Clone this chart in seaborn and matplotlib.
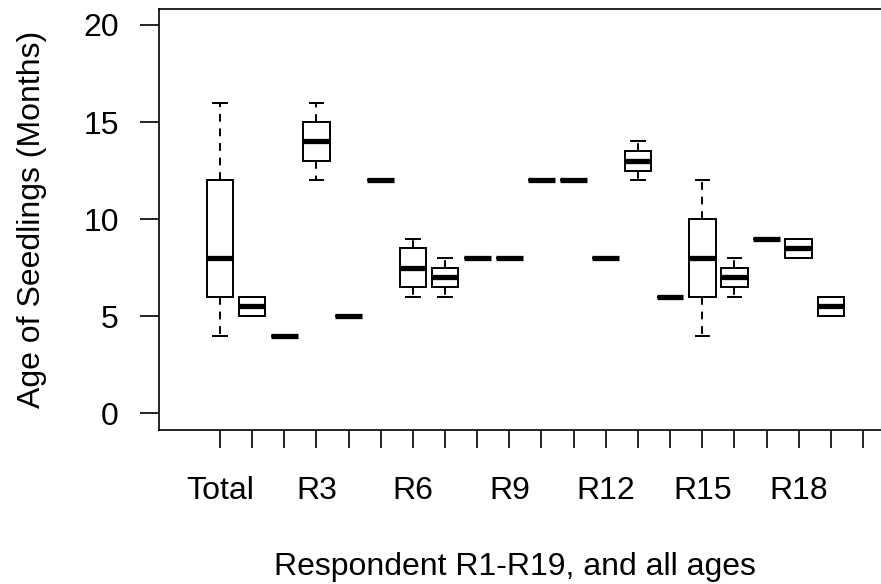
import matplotlib
matplotlib.use("Agg")
import matplotlib.pyplot as plt
import seaborn as sns
import pandas as pd

# Five-number summaries (min, Q1, median, Q3, max)
groups = ["Total"] + [f"R{i}" for i in range(1, 20)]
lows    = [4, 5,   4, 12, 5, 12, 6,   6,   8, 8, 12, 12, 8, 12,   6, 4, 6,   9, 8,   5]
q1s     = [6, 5,   4, 13, 5, 12, 6.5, 6.5, 8, 8, 12, 12, 8, 12.5, 6, 6, 6.5, 9, 8,   5]
medians = [8, 5.5, 4, 14, 5, 12, 7.5, 7,   8, 8, 12, 12, 8, 13,   6, 8, 7,   9, 8.5, 5.5]
q3s     = [12, 6,  4, 15, 5, 12, 8.5, 7.5, 8, 8, 12, 12, 8, 13.5, 6, 10, 7.5, 9, 9,  6]
highs   = [16, 6,  4, 16, 5, 12, 9,   8,   8, 8, 12, 12, 8, 14,   6, 12, 8,  9, 9,   6]

tick_labels = ["Total", "", "", "R3", "", "", "R6", "", "", "R9", "", "",
               "R12", "", "", "R15", "", "", "R18", "", ""]

rows = []
for g, a, b, c, d, e in zip(groups, lows, q1s, medians, q3s, highs):
    for v in (a, b, c, d, e):
        rows.append({"group": g, "value": v})
df = pd.DataFrame(rows)

plt.rcParams["font.family"] = ["Liberation Sans", "DejaVu Sans"]

W, H = 881, 584
fig = plt.figure(figsize=(W / 100, H / 100), dpi=100)
ax = fig.add_axes([159 / W, (H - 430) / H, 731 / W, 421 / H])

sns.boxplot(
    data=df, x="group", y="value", order=groups, ax=ax,
    color="white", linecolor="black", linewidth=1.4, width=0.83,
    saturation=1, whis=1.5, showfliers=False,
    medianprops=dict(linewidth=3.8, color="black", solid_capstyle="butt"),
    whiskerprops=dict(linestyle=(0, (4, 3.5)), color="black"),
    capprops=dict(color="black"),
)

ax.set_xlim(-1.897, 20.84)
ax.set_ylim(-0.86, 20.82)
ax.set_yticks([0, 5, 10, 15, 20])
ax.set_xticks(range(21))
ax.set_xticklabels(tick_labels)

for s in ax.spines.values():
    s.set_linewidth(1.2)
    s.set_color("black")

ax.tick_params(axis="y", direction="out", length=13.4, width=1.2, pad=15.5,
               labelsize=23, colors="black")
ax.tick_params(axis="x", direction="out", length=13, width=1.2, pad=20,
               labelsize=23, colors="black")

ax.set_xlabel("Respondent R1-R19, and all ages", fontsize=23)
ax.set_ylabel("Age of Seedlings (Months)", fontsize=23, labelpad=26)
ax.xaxis.label.set_verticalalignment("top")
ax.xaxis.set_label_coords((515 - 159) / 731, -(552 - 430) / 421)

fig.savefig("out.png", dpi=100)
